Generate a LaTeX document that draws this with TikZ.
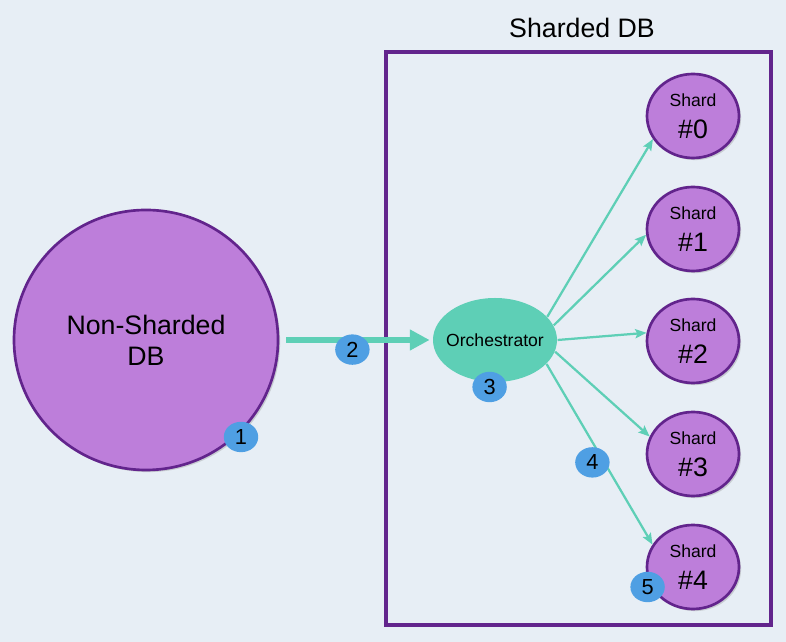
\documentclass[tikz,border=0pt]{standalone}
\usepackage{fontspec}
\setmainfont{Liberation Sans}
\usetikzlibrary{arrows.meta, shadows, positioning, shapes.geometric}

\definecolor{bgblue}{RGB}{231,238,245}
\definecolor{dbpurple}{RGB}{189,126,218}
\definecolor{edgepurple}{RGB}{98,36,140}
\definecolor{orchteal}{RGB}{94,207,182}
\definecolor{stepblue}{RGB}{79,159,227}

\tikzset{
    dbnode/.style={ellipse, draw=edgepurple, line width=1.9pt, fill=dbpurple,
        align=center, inner sep=0pt,
        drop shadow={shadow xshift=1.5pt, shadow yshift=-1.5pt, opacity=0.3}},
    shardnode/.style={dbnode, minimum width=2.3cm, minimum height=2.1cm,
        font=\fontsize{19}{23}\selectfont},
    badge/.style={ellipse, fill=stepblue, minimum width=0.86cm, minimum height=0.76cm,
        inner sep=0pt, font=\fontsize{15.5}{17}\selectfont},
    feed/.style={orchteal, line width=1.6pt, -{Stealth[length=8pt, width=6.5pt, inset=1.5pt]}}
}

\begin{document}
\begin{tikzpicture}[line width=0.8pt]

    % --- Canvas ---
    \fill[bgblue] (0,0) rectangle (19.65,16.05);
    \useasboundingbox (0,0) rectangle (19.65,16.05);

    % --- Sharded DB frame ---
    \draw[edgepurple, line width=2.2pt] (9.65,0.425) rectangle (19.275,14.75);
    \node[font=\fontsize{19}{22}\selectfont] (title) at (14.55,15.35) {Sharded DB};

    % --- Nodes ---
    \node[dbnode, minimum width=6.6cm, minimum height=6.5cm,
        font=\fontsize{19}{22}\selectfont] (nonsharded) at (3.65,7.55) {Non-Sharded\\DB};

    \node[ellipse, fill=orchteal, minimum width=3.1cm, minimum height=2.1cm,
        inner xsep=-5pt, inner ysep=0pt, font=\fontsize{12.5}{14}\selectfont]
        (orch) at (12.375,7.55) {Orchestrator};

    % shards, top to bottom
    \foreach \i/\y in {0/13.15, 1/10.325, 2/7.525, 3/4.7, 4/1.875} {
        \node[shardnode] (shard\i) at (17.325,\y)
            {{\fontsize{12.5}{14}\selectfont Shard}\\\#\i};
    }

    % --- Connectors ---
    \draw[orchteal, line width=4pt, shorten <=5pt, shorten >=2pt,
        -{Triangle[length=14pt, width=14pt]}] (nonsharded) -- (orch);

    \draw[feed] (orch.24)  -- (shard0.210);
    \draw[feed] (orch.14)  -- (shard1.187);
    \draw[feed] (orch.0)   -- (shard2.170);
    \draw[feed] (orch.-11) -- (shard3.158);
    \draw[feed] (orch.-25) -- (shard4.151);

    % --- Step badges ---
    \node[badge] (step1) at (6.025,5.125) {1};
    \node[badge] (step2) at (8.81,7.31)   {2};
    \node[badge] (step3) at (12.24,6.375) {3};
    \node[badge] (step4) at (14.81,4.49)  {4};
    \node[badge] (step5) at (16.19,1.375) {5};

\end{tikzpicture}
\end{document}
